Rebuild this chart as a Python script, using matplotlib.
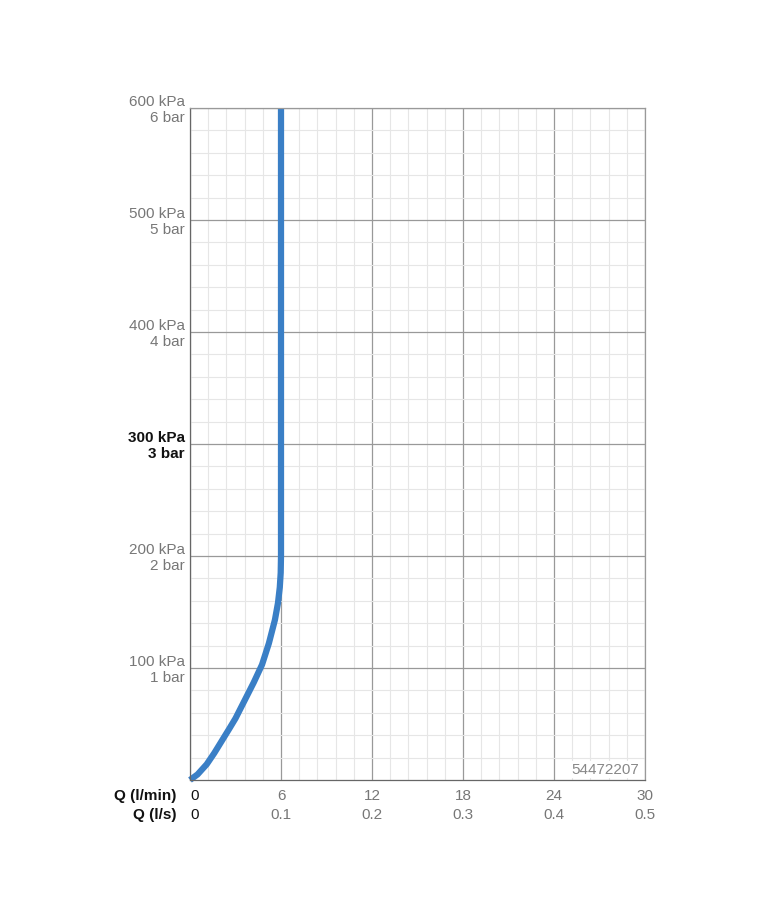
import matplotlib
matplotlib.use("Agg")
import matplotlib.pyplot as plt
import numpy as np

plt.rcParams["font.family"] = ["Liberation Sans", "DejaVu Sans"]

flow_lmin = [0, 0.5, 1.1, 1.6, 2.1, 2.6, 3.0, 3.6, 4.2, 4.75, 5.2, 5.6, 5.8, 5.92, 5.98, 6.0, 6.0]
pressure_kpa = [0, 5, 14, 24, 35, 46, 55, 71, 87, 103, 122, 143, 158, 172, 185, 200, 600]
x_ticks = [0, 6, 12, 18, 24, 30]
x_labels_ls = ["0", "0.1", "0.2", "0.3", "0.4", "0.5"]
y_ticks = [100, 200, 300, 400, 500, 600]
y_labels = ["100 kPa\n1 bar", "200 kPa\n2 bar", "300 kPa\n3 bar", "400 kPa\n4 bar", "500 kPa\n5 bar", "600 kPa\n6 bar"]

fig = plt.figure(figsize=(7.77, 9.16), dpi=100)
ax = fig.add_axes([190/777, 1-780/916, 455/777, 672/916])
ax.set_xlim(0, 30); ax.set_ylim(0, 600)
ax.set_xticks(np.arange(0, 30.01, 1.2), minor=True)
ax.set_yticks(np.arange(0, 600.01, 20), minor=True)
ax.set_xticks(x_ticks); ax.set_yticks(y_ticks)
ax.grid(which="minor", color="#e6e6e6", lw=0.8)
ax.grid(which="major", color="#999999", lw=0.9)
ax.set_axisbelow(True)
for s in ax.spines.values():
    s.set_color("#999999"); s.set_linewidth(0.9)
ax.spines["left"].set_color("#666666"); ax.spines["bottom"].set_color("#666666")
ax.tick_params(which="both", length=0, labelbottom=False, labelleft=False)
ax.plot(flow_lmin, pressure_kpa, color="#3a7fc6", lw=4.5, solid_capstyle="butt",
        solid_joinstyle="round", clip_on=False)

for v, lab in zip(y_ticks, y_labels):
    bold = v == 300
    ax.text(-0.35, v - 2, lab, ha="right", va="center", fontsize=11, linespacing=1.15,
            color="#111111" if bold else "#777777", fontweight="bold" if bold else "normal")
for i, (v, lab) in enumerate(zip(x_ticks, x_labels_ls)):
    c = "#111111" if i == 0 else "#777777"
    ha = "left" if i == 0 else "center"
    ax.text(v, -8, str(v), ha=ha, va="top", fontsize=11, color=c)
    ax.text(v, -25, lab, ha=ha, va="top", fontsize=11, color=c)
ax.text(-0.9, -8, "Q (l/min)", ha="right", va="top", fontsize=11, fontweight="bold", color="#111111")
ax.text(-0.9, -25, "Q (l/s)", ha="right", va="top", fontsize=11, fontweight="bold", color="#111111")
ax.text(29.6, 3, "54472207", ha="right", va="bottom", fontsize=11, color="#888888",
        bbox=dict(facecolor="white", edgecolor="none", pad=1))
fig.savefig("out.png", dpi=100, facecolor="white")
